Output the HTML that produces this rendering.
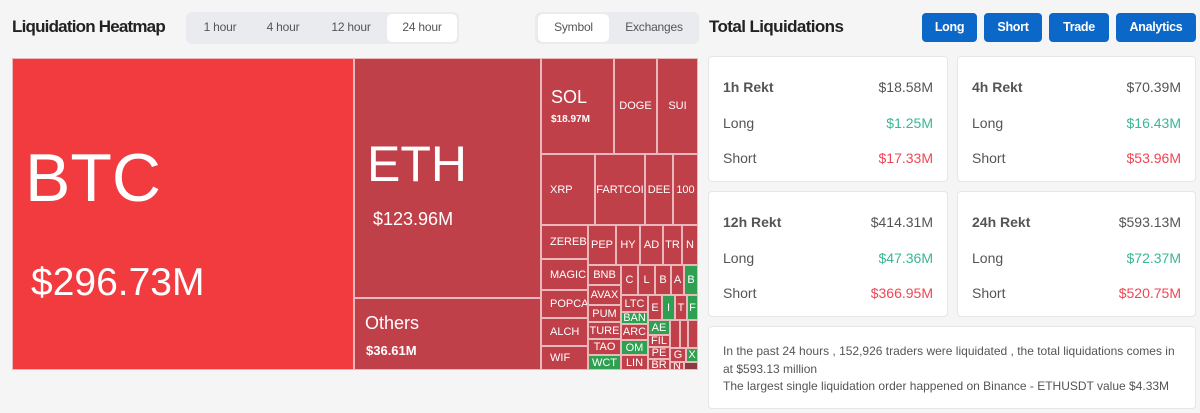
<!DOCTYPE html>
<html><head><meta charset="utf-8"><style>
body{margin:0;width:1200px;height:413px;background:#f5f5f6;font-family:"Liberation Sans",sans-serif;position:relative;overflow:hidden}
.a{position:absolute;box-sizing:border-box}
.c{position:absolute;box-sizing:border-box;background:#c0404a;color:#fff;border:1px solid #e8b8bc;font-size:11px;display:flex;align-items:center;justify-content:center;overflow:hidden;white-space:nowrap}
.l{justify-content:flex-start;padding-left:8px}
.g{background:#2ea04f}
.tab{position:absolute;top:13px;height:29px;line-height:29px;font-size:12px;color:#555;text-align:center;letter-spacing:-0.2px}
.btn{position:absolute;top:13px;height:29px;line-height:29px;background:#0b67c8;color:#fff;font-weight:bold;font-size:12.5px;text-align:center;border-radius:4px;letter-spacing:-0.3px}
.card{position:absolute;background:#fff;border:1px solid #e6e6e6;border-radius:4px;box-sizing:border-box}
.r{position:absolute;left:14px;right:14px;font-size:14px;color:#555;display:flex;justify-content:space-between}
</style></head><body>
<div class="a" style="left:12px;top:17px;font-size:17px;font-weight:bold;color:#222;letter-spacing:-0.8px">Liquidation Heatmap</div>
<div class="a" style="left:186px;top:12px;width:273px;height:32px;background:#e9ebee;border-radius:6px"></div>
<div class="a" style="left:387px;top:14px;width:70px;height:28px;background:#fff;border-radius:5px"></div>
<div class="tab" style="left:190px;width:60px">1 hour</div>
<div class="tab" style="left:253px;width:60px">4 hour</div>
<div class="tab" style="left:318px;width:66px">12 hour</div>
<div class="tab" style="left:387px;width:70px">24 hour</div>
<div class="a" style="left:535px;top:12px;width:164px;height:32px;background:#e9ebee;border-radius:6px"></div>
<div class="a" style="left:538px;top:14px;width:71px;height:28px;background:#fff;border-radius:5px"></div>
<div class="tab" style="left:538px;width:71px">Symbol</div>
<div class="tab" style="left:612px;width:84px">Exchanges</div>

<div class="a" style="left:12px;top:58px;width:686px;height:312px;background:#e8b8bc"></div>
<div class="c" style="left:12px;top:58px;width:342px;height:312px;background:#f23b3f;display:block">
<div style="position:absolute;left:12px;top:80px;font-size:68px">BTC</div>
<div style="position:absolute;left:18px;top:202px;font-size:39px">$296.73M</div></div>
<div class="c" style="left:354px;top:58px;width:187px;height:240px;display:block">
<div style="position:absolute;left:12px;top:76px;font-size:50px">ETH</div>
<div style="position:absolute;left:18px;top:150px;font-size:18px">$123.96M</div></div>
<div class="c" style="left:354px;top:298px;width:187px;height:72px;display:block">
<div style="position:absolute;left:10px;top:14px;font-size:18px">Others</div>
<div style="position:absolute;left:11px;top:44px;font-size:13px;font-weight:bold">$36.61M</div></div>
<div class="c" style="left:541px;top:58px;width:73px;height:96px;display:block">
<div style="position:absolute;left:9px;top:28px;font-size:18px">SOL</div>
<div style="position:absolute;left:9px;top:55px;font-size:10px;font-weight:bold">$18.97M</div></div>
<div class="c" style="left:614px;top:58px;width:43px;height:96px">DOGE</div>
<div class="c" style="left:657px;top:58px;width:41px;height:96px">SUI</div>
<div class="c l" style="left:541px;top:154px;width:54px;height:71px">XRP</div>
<div class="c" style="left:595px;top:154px;width:50px;height:71px">FARTCOI</div>
<div class="c" style="left:645px;top:154px;width:28px;height:71px">DEE</div>
<div class="c" style="left:673px;top:154px;width:25px;height:71px">100</div>
<div class="c l" style="left:541px;top:225px;width:47px;height:34px">ZEREBR</div>
<div class="c" style="left:588px;top:225px;width:28px;height:40px">PEP</div>
<div class="c" style="left:616px;top:225px;width:24px;height:40px">HY</div>
<div class="c" style="left:640px;top:225px;width:23px;height:40px">AD</div>
<div class="c" style="left:663px;top:225px;width:19px;height:40px">TR</div>
<div class="c" style="left:682px;top:225px;width:16px;height:40px">N</div>
<div class="c l" style="left:541px;top:259px;width:47px;height:31px">MAGIC</div>
<div class="c l" style="left:541px;top:290px;width:47px;height:28px">POPCAT</div>
<div class="c l" style="left:541px;top:318px;width:47px;height:28px">ALCH</div>
<div class="c l" style="left:541px;top:346px;width:47px;height:24px">WIF</div>
<div class="c" style="left:588px;top:265px;width:33px;height:20px">BNB</div>
<div class="c" style="left:588px;top:285px;width:33px;height:20px">AVAX</div>
<div class="c" style="left:588px;top:305px;width:33px;height:17px">PUM</div>
<div class="c" style="left:588px;top:322px;width:33px;height:17px">TURE</div>
<div class="c" style="left:588px;top:339px;width:33px;height:16px">TAO</div>
<div class="c g" style="left:588px;top:355px;width:33px;height:15px">WCT</div>
<div class="c" style="left:621px;top:265px;width:17px;height:30px">C</div>
<div class="c" style="left:638px;top:265px;width:17px;height:30px">L</div>
<div class="c" style="left:655px;top:265px;width:16px;height:30px">B</div>
<div class="c" style="left:671px;top:265px;width:13px;height:30px">A</div>
<div class="c g" style="left:684px;top:265px;width:14px;height:30px">B</div>
<div class="c" style="left:621px;top:295px;width:27px;height:17px">LTC</div>
<div class="c g" style="left:621px;top:312px;width:27px;height:12px">BAN</div>
<div class="c" style="left:621px;top:324px;width:27px;height:16px">ARC</div>
<div class="c g" style="left:621px;top:340px;width:27px;height:15px">OM</div>
<div class="c" style="left:621px;top:355px;width:27px;height:15px">LIN</div>
<div class="c" style="left:648px;top:295px;width:14px;height:25px">E</div>
<div class="c g" style="left:662px;top:295px;width:13px;height:25px">I</div>
<div class="c" style="left:675px;top:295px;width:12px;height:25px">T</div>
<div class="c g" style="left:687px;top:295px;width:11px;height:25px">F</div>
<div class="c g" style="left:648px;top:320px;width:22px;height:15px">AE</div>
<div class="c" style="left:648px;top:335px;width:22px;height:12px">FIL</div>
<div class="c" style="left:648px;top:347px;width:22px;height:12px">PE</div>
<div class="c" style="left:648px;top:359px;width:22px;height:11px">BR</div>
<div class="c" style="left:670px;top:320px;width:10px;height:28px"></div>
<div class="c" style="left:680px;top:320px;width:8px;height:28px"></div>
<div class="c" style="left:688px;top:320px;width:10px;height:28px"></div>
<div class="c" style="left:670px;top:348px;width:16px;height:14px">G</div>
<div class="c g" style="left:686px;top:348px;width:12px;height:14px">X</div>
<div class="c" style="left:670px;top:362px;width:14px;height:8px">N</div>
<div class="c" style="left:684px;top:362px;width:14px;height:8px;background:#8a3a40"></div>

<div class="a" style="left:709px;top:17px;font-size:17px;font-weight:bold;color:#222;letter-spacing:-0.6px">Total Liquidations</div>
<div class="btn" style="left:922px;width:55px">Long</div>
<div class="btn" style="left:984px;width:58px">Short</div>
<div class="btn" style="left:1049px;width:60px">Trade</div>
<div class="btn" style="left:1116px;width:80px">Analytics</div>

<div class="card" style="left:708px;top:56px;width:240px;height:126px">
<div class="r" style="top:22px"><b style="font-weight:600">1h Rekt</b><span>$18.58M</span></div>
<div class="r" style="top:58px"><span>Long</span><span style="color:#3ab795">$1.25M</span></div>
<div class="r" style="top:93px"><span>Short</span><span style="color:#ef4656">$17.33M</span></div></div>
<div class="card" style="left:957px;top:56px;width:239px;height:126px">
<div class="r" style="top:22px"><b style="font-weight:600">4h Rekt</b><span>$70.39M</span></div>
<div class="r" style="top:58px"><span>Long</span><span style="color:#3ab795">$16.43M</span></div>
<div class="r" style="top:93px"><span>Short</span><span style="color:#ef4656">$53.96M</span></div></div>
<div class="card" style="left:708px;top:191px;width:240px;height:126px">
<div class="r" style="top:22px"><b style="font-weight:600">12h Rekt</b><span>$414.31M</span></div>
<div class="r" style="top:58px"><span>Long</span><span style="color:#3ab795">$47.36M</span></div>
<div class="r" style="top:93px"><span>Short</span><span style="color:#ef4656">$366.95M</span></div></div>
<div class="card" style="left:957px;top:191px;width:239px;height:126px">
<div class="r" style="top:22px"><b style="font-weight:600">24h Rekt</b><span>$593.13M</span></div>
<div class="r" style="top:58px"><span>Long</span><span style="color:#3ab795">$72.37M</span></div>
<div class="r" style="top:93px"><span>Short</span><span style="color:#ef4656">$520.75M</span></div></div>
<div class="card" style="left:708px;top:326px;width:488px;height:83px;padding:16px 14px 0 14px;font-size:12px;line-height:17.5px;color:#555">
In the past 24 hours , 152,926 traders were liquidated , the total liquidations comes in at $593.13 million<br>The largest single liquidation order happened on Binance - ETHUSDT value $4.33M</div>
</body></html>
